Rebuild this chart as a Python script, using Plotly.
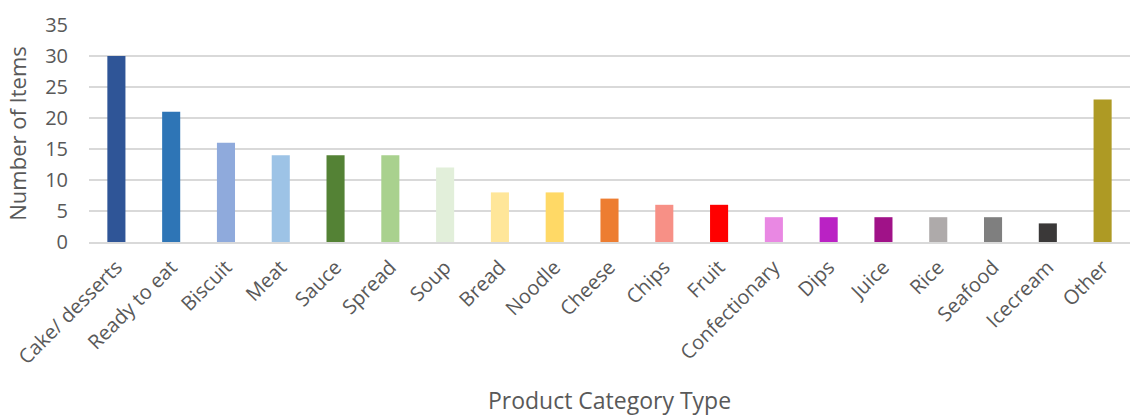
import plotly.graph_objects as go

categories = ["Cake/ desserts", "Ready to eat", "Biscuit", "Meat", "Sauce", "Spread", "Soup",
              "Bread", "Noodle", "Cheese", "Chips", "Fruit", "Confectionary", "Dips", "Juice",
              "Rice", "Seafood", "Icecream", "Other"]
values = [30, 21, 16, 14, 14, 14, 12, 8, 8, 7, 6, 6, 4, 4, 4, 4, 4, 3, 23]
colors = ["#2F5597", "#2E75B6", "#8FAADC", "#9DC3E6", "#548235", "#A9D18E", "#E2EFDA",
          "#FFE699", "#FFD966", "#ED7D31", "#F79086", "#FF0000", "#E988E3", "#BA22C4",
          "#A01288", "#AEAAAA", "#7F7F7F", "#3A3838", "#AE9A24"]
y_ticks = [0, 5, 10, 15, 20, 25, 30, 35]

fig = go.Figure(go.Bar(x=categories, y=values, marker=dict(color=colors, line=dict(width=0))))

font_color = "#595959"
fig.update_layout(
    width=1130, height=416,
    margin=dict(l=89, r=0, t=25, b=174),
    plot_bgcolor="white", paper_bgcolor="white",
    bargap=0.67,
    showlegend=False,
    font=dict(family="Open Sans", color=font_color, size=20),
    xaxis=dict(tickangle=-45, showgrid=False, showline=True, linecolor="#d9d9d9", linewidth=1.5,
               ticks="", tickfont=dict(size=20, color=font_color), automargin=False,
               ticklabelstandoff=4,
               title=dict(text="Product Category Type", font=dict(size=23, color=font_color), standoff=28)),
    yaxis=dict(range=[0, 35], tickvals=y_ticks, showgrid=True, gridcolor="#d9d9d9", gridwidth=1.5,
               zeroline=False, ticks="", tickfont=dict(size=20, color=font_color),
               ticklabelstandoff=20, automargin=False,
               title=dict(text="Number of Items", font=dict(size=22, color=font_color), standoff=12)),
)

fig.write_html("out.html")
